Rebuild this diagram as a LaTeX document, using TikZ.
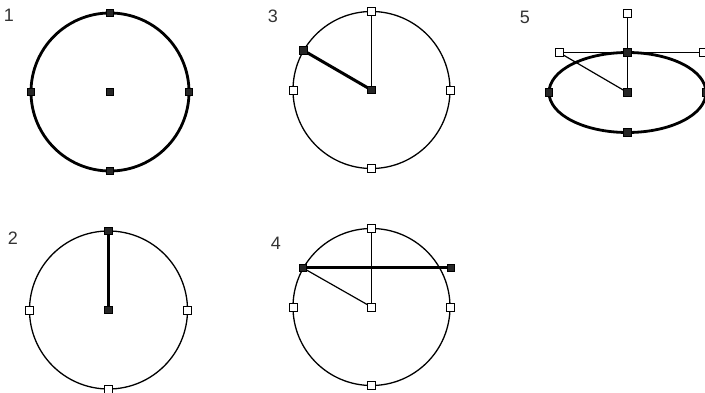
\documentclass[tikz,border=0pt]{standalone}
\usepackage{fontspec}
\setmainfont{Liberation Sans}
\begin{document}
\begin{tikzpicture}[x=1pt,y=-1pt,
  hb/.style={draw=black,fill=black!85,minimum size=7.5pt,inner sep=0pt,line width=0.8pt},
  hw/.style={draw=black,fill=white,minimum size=8pt,inner sep=0pt,line width=0.9pt},
  thickc/.style={line width=2.8pt},
  thinc/.style={line width=1.3pt},
  thinl/.style={line width=1.2pt},
  thickl/.style={line width=3pt},
  lbl/.style={font=\fontsize{18}{18}\selectfont,text=black!80,inner sep=0pt}]
\useasboundingbox (0,0) rectangle (705,393);
\clip (0,0) rectangle (705,393);
% labels
\node[lbl] (l1) at (9,15) {1};
\node[lbl] (l2) at (13,238) {2};
\node[lbl] (l3) at (273,16) {3};
\node[lbl] (l4) at (276,243) {4};
\node[lbl] (l5) at (525,17) {5};
% panel 1
\draw[thickc] (110,92) circle (79);
\node[hb] (a0) at (110,92) {};
\node[hb] (a1) at (110,13) {};
\node[hb] (a2) at (110,171) {};
\node[hb] (a3) at (31,92) {};
\node[hb] (a4) at (189,92) {};
% panel 2
\draw[thinc] (108.5,310) circle (79);
\coordinate (b0c) at (108.5,310);
\coordinate (b1c) at (108.5,231);
\draw[thickl] (b1c) -- (b0c);
\node[hb] (b0) at (b0c) {};
\node[hb] (b1) at (b1c) {};
\node[hw] (b2) at (108.5,389) {};
\node[hw] (b3) at (29.5,310) {};
\node[hw] (b4) at (187.5,310) {};
% panel 3
\draw[thinc] (371.5,90) circle (78.5);
\coordinate (c0c) at (371.5,90);
\coordinate (c1c) at (371.5,11.5);
\coordinate (c5c) at (303.5,50.5);
\draw[thinl] (c1c) -- (c0c);
\draw[thickl] (c5c) -- (c0c);
\node[hw] (c1) at (c1c) {};
\node[hb] (c0) at (c0c) {};
\node[hb] (c5) at (c5c) {};
\node[hw] (c2) at (371.5,168.5) {};
\node[hw] (c3) at (293,90) {};
\node[hw] (c4) at (450,90) {};
% panel 4
\draw[thinc] (371.5,307) circle (78.5);
\coordinate (d0c) at (371.5,307);
\coordinate (d1c) at (371.5,228.5);
\coordinate (d5c) at (303,268);
\coordinate (d6c) at (451,268);
\draw[thinl] (d1c) -- (d0c);
\draw[thinl] (d5c) -- (d0c);
\draw[thickl] (d5c) -- (d6c);
\node[hw] (d0) at (d0c) {};
\node[hw] (d1) at (d1c) {};
\node[hb] (d5) at (d5c) {};
\node[hb] (d6) at (d6c) {};
\node[hw] (d2) at (371.5,385.5) {};
\node[hw] (d3) at (293,307) {};
\node[hw] (d4) at (450,307) {};
% panel 5
\draw[thickc] (627.5,92.5) ellipse (78.5 and 40);
\coordinate (e0c) at (627.5,92.5);
\coordinate (e1c) at (627.5,52.5);
\coordinate (e6c) at (627.5,13.5);
\coordinate (e7c) at (559,52.5);
\coordinate (e8c) at (703,52.5);
\draw[thinl] (e6c) -- (e0c);
\draw[thinl] (e7c) -- (e8c);
\draw[thinl] (e7c) -- (e0c);
\node[hb] (e0) at (e0c) {};
\node[hb] (e1) at (e1c) {};
\node[hb] (e2) at (627.5,132.5) {};
\node[hb] (e3) at (549,92.5) {};
\node[hb] (e4) at (706,92.5) {};
\node[hw] (e6) at (e6c) {};
\node[hw] (e7) at (e7c) {};
\node[hw] (e8) at (e8c) {};
\end{tikzpicture}
\end{document}
